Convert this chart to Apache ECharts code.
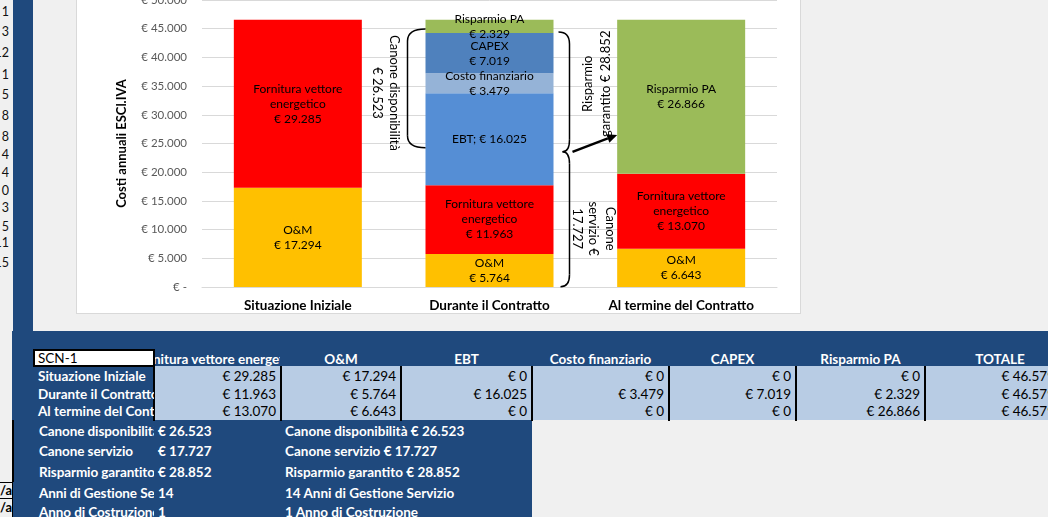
<!DOCTYPE html>
<html>
<head>
<meta charset="utf-8">
<script src="https://cdn.jsdelivr.net/npm/echarts@6/dist/echarts.min.js"></script>
<style>
  html, body { margin: 0; padding: 0; }
  body {
    width: 1048px; height: 517px; overflow: hidden; position: relative;
    background: #f0f0f0; font-family: Lato, sans-serif; font-size: 13.5px;
  }
  #chart {
    position: absolute; left: 77px; top: -40px; width: 723px; height: 353px;
    background: #fff; box-shadow: 0 0 0 1px #d9d9d9;
  }
  #sheet div { position: absolute; box-sizing: border-box; white-space: nowrap; }
</style>
</head>
<body>
<div id="sheet"></div>
<div id="chart"></div>
<script>
// --- data -------------------------------------------------------------
const categories = ['Situazione Iniziale', 'Durante il Contratto', 'Al termine del Contratto'];
const omValues = [17294, 5764, 6643];
const fornituraValues = [29285, 11963, 13070];
const ebtValues = [0, 16025, 0];
const costoFinValues = [0, 3479, 0];
const capexValues = [0, 7019, 0];
const risparmioValues = [0, 2329, 26866];
const totalValues = [46579, 46579, 46579];

const canoneDisponibilita = 26523;
const canoneServizio = 17727;
const risparmioGarantito = 28852;
const anniGestione = 14;
const anniCostruzione = 1;

const tableHeaders = ['Fornitura vettore energetico', 'O&M', 'EBT', 'Costo finanziario', 'CAPEX', 'Risparmio PA', 'TOTALE'];
const rowDigits = ['1', '3', '12', '1', '5', '8', '8', '4', '4', '0', '3', '5', '11', '15'];

const fmt = n => String(n).replace(/\B(?=(\d{3})+(?!\d))/g, '.');
const eur = n => '€ ' + fmt(n);

// --- spreadsheet around the chart ---------------------------------------
const sheet = document.getElementById('sheet');
function box(x, y, w, h, css, text) {
  const d = document.createElement('div');
  d.style.cssText = `left:${x}px;top:${y}px;width:${w}px;height:${h}px;${css || ''}`;
  if (text != null) d.textContent = text;
  sheet.appendChild(d);
  return d;
}
const navy = 'background:#1f497d;';
const whiteBold = 'color:#fff;font-weight:bold;overflow:hidden;';

const digitY = [12, 32, 53, 75, 95, 116, 137, 155, 173, 191, 208, 227, 243, 263];
rowDigits.forEach((d, i) => {
  box(0, digitY[i] - 8, 9, 16, 'display:flex;justify-content:flex-end;overflow:hidden;font-size:12.5px;line-height:16px;color:#111;', d);
});

box(13, 0, 20, 332, navy);
box(12, 331, 1036, 89, navy);
box(12, 420, 520, 97, navy);
box(154, 366, 894, 54, 'background:#b8cce4;');

const edges = [154, 281, 401, 532, 669, 796, 925, 1075];
edges.slice(0, 7).forEach((x, i) => {
  box(x - 1, i === 0 ? 349 : 366, 2, i === 0 ? 72 : 55, 'background:#000;');
});

box(33, 349, 122, 18, 'background:#fff;border:2px solid #000;padding-left:3px;line-height:14px;color:#000;', 'SCN-1');

tableHeaders.forEach((h, i) => {
  box(edges[i] + 1, 351, edges[i + 1] - edges[i] - 2, 17,
    whiteBold + 'display:flex;justify-content:center;line-height:17px;', h);
});

const tableCols = [fornituraValues, omValues, ebtValues, costoFinValues, capexValues, risparmioValues, totalValues];
const rowTops = [368, 386, 403];
categories.forEach((c, r) => {
  box(33, rowTops[r], 121, 17, whiteBold + 'padding-left:5px;line-height:17px;', c);
  tableCols.forEach((col, i) => {
    const right = i === 6 ? 1055 : edges[i + 1] - 5;
    box(edges[i], rowTops[r], right - edges[i], 17,
      'display:flex;justify-content:flex-end;line-height:17px;color:#000;', eur(col[r]));
  });
});

const summary = [
  ['Canone disponibilità', eur(canoneDisponibilita), 'Canone disponibilità ' + eur(canoneDisponibilita)],
  ['Canone servizio', eur(canoneServizio), 'Canone servizio ' + eur(canoneServizio)],
  ['Risparmio garantito', eur(risparmioGarantito), 'Risparmio garantito ' + eur(risparmioGarantito)],
  ['Anni di Gestione Servizio', String(anniGestione), anniGestione + ' Anni di Gestione Servizio'],
  ['Anno di Costruzione', String(anniCostruzione), anniCostruzione + ' Anno di Costruzione']
];
const summaryY = [431, 451, 472, 493, 512];
summary.forEach((s, i) => {
  const t = summaryY[i] - 9;
  box(33, t, 121, 18, whiteBold + 'padding-left:6px;line-height:18px;letter-spacing:-0.1px;', s[0]);
  box(154, t, 127, 18, whiteBold + 'padding-left:4px;line-height:18px;', s[1]);
  box(281, t, 250, 18, whiteBold + 'padding-left:4px;line-height:18px;', s[2]);
});

box(12, 420, 2, 62, 'background:#000;');
box(-2, 482, 15, 17, 'border:1px solid #000;display:flex;justify-content:flex-end;overflow:hidden;font-weight:bold;font-size:13px;line-height:15px;color:#000;', 'N/a');
box(-2, 498, 15, 20, 'border-top:1px solid #000;border-right:1px solid #000;display:flex;justify-content:flex-end;overflow:hidden;font-weight:bold;font-size:13px;line-height:17px;color:#000;', 'N/a');

// --- chart --------------------------------------------------------------
const chart = echarts.init(document.getElementById('chart'));
const barWidth = 128;
const font = 'Lato';

function stackSeries(name, data, color, labelFn) {
  return {
    name, type: 'bar', stack: 'costi', data, barWidth,
    itemStyle: { color },
    label: {
      show: true, position: 'inside', color: '#000',
      fontFamily: font, fontSize: 12, lineHeight: 15,
      formatter: p => (p.value ? labelFn(p.value) : '')
    }
  };
}

const option = {
  animation: false,
  textStyle: { fontFamily: font },
  grid: { left: 125, right: 23, top: 40, bottom: 26 },
  xAxis: {
    type: 'category',
    data: categories,
    axisLine: { show: true, lineStyle: { color: '#d9d9d9' } },
    axisTick: { show: false },
    axisLabel: { fontFamily: font, fontWeight: 'bold', fontSize: 13.5, color: '#000', margin: 12 }
  },
  yAxis: {
    type: 'value',
    min: 0, max: 50000, interval: 5000,
    name: 'Costi annuali ESCl.IVA',
    nameLocation: 'middle',
    nameGap: 74,
    nameTextStyle: { fontFamily: font, fontWeight: 'bold', fontSize: 13, color: '#000' },
    axisLine: { show: false },
    axisTick: { show: false },
    splitLine: { lineStyle: { color: '#d9d9d9' } },
    axisLabel: {
      fontFamily: font, fontSize: 11.5, color: '#595959', margin: 15,
      formatter: v => (v === 0 ? '€ -' : eur(v))
    }
  },
  series: [
    stackSeries('O&M', omValues, '#FFC000', v => 'O&M\n' + eur(v)),
    stackSeries('Fornitura vettore energetico', fornituraValues, '#FF0000', v => 'Fornitura vettore\nenergetico\n' + eur(v)),
    stackSeries('EBT', ebtValues, '#558ED5', v => 'EBT; ' + eur(v)),
    stackSeries('Costo finanziario', costoFinValues, '#95B3D7', v => 'Costo finanziario\n' + eur(v)),
    stackSeries('CAPEX', capexValues, '#4F81BD', v => 'CAPEX\n' + eur(v)),
    stackSeries('Risparmio PA', risparmioValues, '#9BBB59', v => 'Risparmio PA\n' + eur(v))
  ]
};
chart.setOption(option);

// --- hand-drawn annotations (braces, arrow, rotated notes) ---------------
function annotations() {
  const py = v => chart.convertToPixel({ yAxisIndex: 0 }, v);
  const px = c => chart.convertToPixel({ xAxisIndex: 0 }, c);
  const mid = px(categories[1]);
  const last = px(categories[2]);
  const half = barWidth / 2;
  const stroke = { stroke: '#000', lineWidth: 1.5, fill: 'none' };

  function bracket(xa, ya, xv, xb, yb, r) {
    return [
      { type: 'bezierCurve', z: 100, shape: { x1: xa, y1: ya, x2: xv, y2: ya + r, cpx1: xv, cpy1: ya }, style: stroke },
      { type: 'line', z: 100, shape: { x1: xv, y1: ya + r, x2: xv, y2: yb - r }, style: stroke },
      { type: 'bezierCurve', z: 100, shape: { x1: xv, y1: yb - r, x2: xb, y2: yb, cpx1: xv, cpy1: yb }, style: stroke }
    ];
  }
  function note(text, x, y, rotation, lineHeight) {
    return {
      type: 'text', z: 100, x, y, rotation,
      style: {
        text, fill: '#000', fontFamily: font, fontSize: 13, lineHeight,
        textAlign: 'center', textVerticalAlign: 'middle', align: 'center', verticalAlign: 'middle'
      }
    };
  }

  const joinY = py(23550);
  const ax0 = mid + 83, ay0 = joinY;
  const ax1 = last - half, ay1 = py(26500);
  const ang = Math.atan2(ay1 - ay0, ax1 - ax0);
  const hl = 10, hw = 4.5;
  const bx = ax1 - hl * Math.cos(ang), by = ay1 - hl * Math.sin(ang);

  const elements = [
    ...bracket(mid - half, py(44950), mid - 82, mid - half, py(24250), 12),
    ...bracket(mid + 69, py(44430), mid + 80, mid + 73, joinY, 12),
    ...bracket(mid + 73, joinY, mid + 80, mid + 71, py(50), 12),
    { type: 'line', z: 100, shape: { x1: ax0, y1: ay0, x2: bx, y2: by }, style: { stroke: '#000', lineWidth: 2.5 } },
    {
      type: 'polygon', z: 100,
      shape: {
        points: [
          [ax1, ay1],
          [bx + hw * Math.sin(ang), by - hw * Math.cos(ang)],
          [bx - hw * Math.sin(ang), by + hw * Math.cos(ang)]
        ]
      },
      style: { fill: '#000' }
    },
    note('Canone disponibilità\n' + eur(canoneDisponibilita), mid - 104, py(33800), -Math.PI / 2, 17),
    note('Risparmio\ngarantito ' + eur(risparmioGarantito), mid + 107, py(35400), Math.PI / 2, 18),
    note('Canone\nservizio €\n' + fmt(canoneServizio), mid + 104, py(10150), -Math.PI / 2, 16.5)
  ];
  chart.setOption({ graphic: { elements } });
}
annotations();
</script>
</body>
</html>
